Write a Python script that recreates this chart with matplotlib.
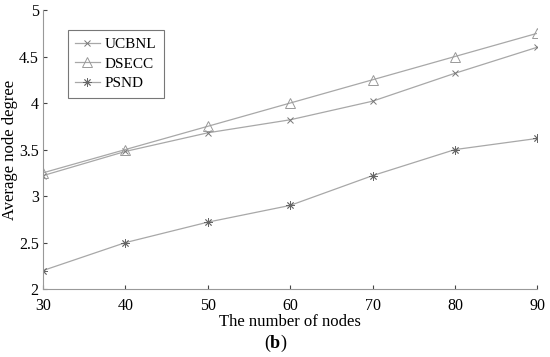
import matplotlib
matplotlib.use("Agg")
import matplotlib.pyplot as plt

nodes = [30, 40, 50, 60, 70, 80, 90]
ucbnl = [3.22, 3.48, 3.68, 3.82, 4.02, 4.32, 4.60]
dsecc = [3.25, 3.50, 3.75, 4.00, 4.25, 4.50, 4.75]
psnd = [2.20, 2.50, 2.72, 2.90, 3.22, 3.50, 3.62]

plt.rcParams["font.family"] = ["Liberation Serif", "DejaVu Serif"]

fig = plt.figure(figsize=(5.5, 3.57), dpi=100)
ax = fig.add_axes([0.078, 0.19, 0.899, 0.782])

line_color = "#a8a8a8"
ax.plot(nodes, ucbnl, color=line_color, lw=0.9, marker="x", ms=5,
        mec="#777777", mew=0.7, label="UCBNL")
ax.plot(nodes, dsecc, color=line_color, lw=0.9, marker="^", ms=7,
        mfc="none", mec="#999999", mew=0.7, label="DSECC")
ax.plot(nodes, psnd, color=line_color, lw=0.9, marker=(8, 2, 0), ms=6,
        mec="#666666", mew=0.6, label="PSND")

ax.set_xlim(30, 90)
ax.set_ylim(2, 5)
ax.set_xticks(nodes)
ax.set_yticks([2, 2.5, 3, 3.5, 4, 4.5, 5])
ax.set_yticklabels(["2", "2.5", "3", "3.5", "4", "4.5", "5"])
ax.tick_params(direction="in", length=3, color="#444444", labelsize=11.5)
ax.tick_params(axis="y", pad=3)
ax.tick_params(axis="x", pad=6)

for side in ["top", "right"]:
    ax.spines[side].set_visible(False)
for side in ["left", "bottom"]:
    ax.spines[side].set_color("#999999")
    ax.spines[side].set_linewidth(0.8)

ax.set_xlabel("The number of nodes", fontsize=12, labelpad=0.5)
# y label placed in figure coordinates so it stays inside the canvas
fig.text(10 / 550, 0.19 + 0.782 / 2, "Average node degree", fontsize=12,
         rotation=90, ha="center", va="center")

leg = ax.legend(loc="upper left", bbox_to_anchor=(0.05, 0.93), fontsize=11,
                frameon=True, fancybox=False, handlelength=1.6,
                borderpad=0.5, labelspacing=0.4, handletextpad=0.3,
                borderaxespad=0)
leg.get_frame().set_edgecolor("#555555")
leg.get_frame().set_linewidth(0.8)

# caption "(b)" with bold letter
fig.canvas.draw()
renderer = fig.canvas.get_renderer()
t_b = fig.text(0.5, 0.025, "b", fontsize=13, fontweight="bold", ha="center")
bb = t_b.get_window_extent(renderer)
fig.text(bb.x0 / fig.bbox.width, 0.025, "(", fontsize=13, ha="right")
fig.text(bb.x1 / fig.bbox.width, 0.025, ")", fontsize=13, ha="left")

fig.savefig("out.png", dpi=100)
